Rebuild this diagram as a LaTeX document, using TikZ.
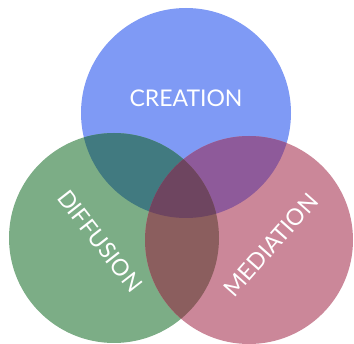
\documentclass[tikz,border=0pt]{standalone}
\usepackage{fontspec}
\setmainfont{Lato}
\definecolor{cblue}{RGB}{127,154,245}
\definecolor{cgreen}{RGB}{124,173,134}
\definecolor{cpink}{RGB}{203,135,153}
\definecolor{cbg}{RGB}{65,122,128}
\definecolor{cbp}{RGB}{142,90,154}
\definecolor{cgp}{RGB}{139,94,94}
\definecolor{call}{RGB}{110,69,96}
\begin{document}
\begin{tikzpicture}[x=1pt,y=-1pt,
  lbl/.style={text=white,font=\fontsize{23}{23}\selectfont,inner sep=0pt}]
\useasboundingbox (0,0) rectangle (354,344);
\coordinate (B) at (186,113);
\coordinate (G) at (114,238);
\coordinate (P) at (249,240);
\def\rB{105}\def\rG{105}\def\rP{104}
\fill[cblue] (B) circle (\rB);
\fill[cgreen] (G) circle (\rG);
\fill[cpink] (P) circle (\rP);
\begin{scope}
  \clip (B) circle (\rB);
  \fill[cbg] (G) circle (\rG);
  \fill[cbp] (P) circle (\rP);
\end{scope}
\begin{scope}
  \clip (G) circle (\rG);
  \fill[cgp] (P) circle (\rP);
  \clip (B) circle (\rB);
  \fill[call] (P) circle (\rP);
\end{scope}
\node[lbl] (creation) at (186,98) {CREATION};
\node[lbl,rotate=-52] (diffusion) at (100,241) {DIFFUSION};
\node[lbl,rotate=48.5] (mediation) at (271,245) {MEDIATION};
\end{tikzpicture}
\end{document}
